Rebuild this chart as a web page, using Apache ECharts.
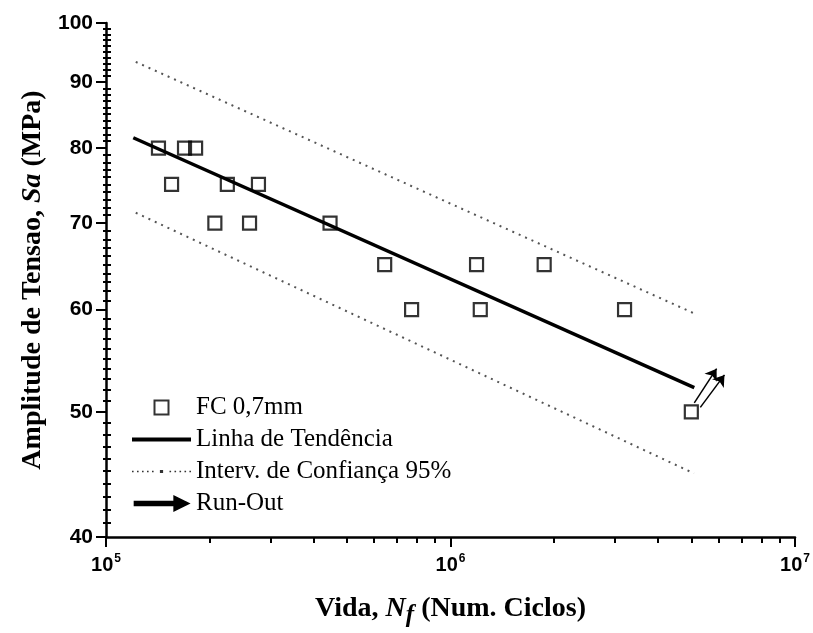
<!DOCTYPE html>
<html>
<head>
<meta charset="utf-8">
<script src="https://cdn.jsdelivr.net/npm/echarts@6/dist/echarts.min.js"></script>
<style>
html,body{margin:0;padding:0;background:#fff;}
#c{width:813px;height:633px;}
</style>
</head>
<body>
<div id="c"></div>
<script>
// ---- data ----
const fcN = [1.42e5, 1.69e5, 1.82e5, 1.55e5, 2.25e5, 2.77e5, 2.07e5, 2.61e5, 4.47e5, 6.44e5, 1.19e6, 1.87e6, 7.71e5, 1.22e6, 3.20e6, 5.0e6];
const fcS = [80, 80, 80, 75, 75, 75, 70, 70, 70, 65, 65, 65, 60, 60, 60, 50];
const trendN = [1.20e5, 5.1e6];
const trendS = [81.5, 52.2];
const upperN = [1.22e5, 5.09e6];
const upperS = [93.3, 59.6];
const lowerN = [1.22e5, 5.09e6];
const lowerS = [71.3, 44.8];
const runFromN = [5.10e6, 5.31e6];
const runFromS = [50.8, 50.4];
const runToN = [5.92e6, 6.24e6];
const runToS = [54.0, 53.4];
const xMajorTicks = [1e5, 1e6, 1e7];
const xMinorTicks = [2e5, 3e5, 4e5, 5e5, 6e5, 7e5, 8e5, 9e5, 2e6, 3e6, 4e6, 5e6, 6e6, 7e6, 8e6, 9e6];
const yMajorTicks = [40, 50, 60, 70, 80, 90, 100];
const yMinorTicks = [41, 42, 43, 44, 45, 46, 47, 48, 49, 51, 52, 53, 54, 55, 56, 57, 58, 59,
  61, 62, 63, 64, 65, 66, 67, 68, 69, 71, 72, 73, 74, 75, 76, 77, 78, 79,
  81, 82, 83, 84, 85, 86, 87, 88, 89, 91, 92, 93, 94, 95, 96, 97, 98, 99];

const zip = (a, b) => a.map((v, i) => [v, b[i]]);

// legend icons (style only)
const squareIcon = 'path://M0,0 L12,0 L12,12 L0,12 Z';
const thickLineIcon = 'path://M0,0 L60,0 L60,4 L0,4 Z';
let dotted = '';
[0, 5, 10, 15, 20, 37.5, 42.5, 47.5, 52.5, 57.4].forEach(x => { dotted += 'M' + x + ',0.7 h1.6 v1.6 h-1.6 Z '; });
dotted += 'M27.9,0 h3.2 v3 h-3.2 Z';
const dottedIcon = 'path://' + dotted;
const arrowIcon = 'path://M0,5.5 L34,5.5 L34,1 L46,7 L34,13 L34,8.5 L0,8.5 Z';

const chart = echarts.init(document.getElementById('c'), null, {renderer: 'canvas'});
const serifB = {fontFamily: 'Liberation Serif', fontWeight: 'bold', fontSize: 28, color: '#000'};
const baseX = {type: 'log', logBase: 10, min: 1e5, max: 1e7, gridIndex: 0, position: 'bottom', splitLine: {show: false}};
const baseY = {type: 'log', logBase: 10, min: 40, max: 100, gridIndex: 0, position: 'left', splitLine: {show: false}};

const option = {
  backgroundColor: '#fff',
  animation: false,
  grid: {left: 106, right: 15, top: 23, bottom: 93, containLabel: false},
  legend: {
    left: 127, top: 390, orient: 'vertical',
    itemWidth: 59, itemHeight: 14, itemGap: 7, symbolKeepAspect: true,
    textStyle: {fontFamily: 'Liberation Serif', fontSize: 25, color: '#000', lineHeight: 25},
    data: [
      {name: 'FC 0,7mm', icon: squareIcon},
      {name: 'Linha de Tendência', icon: thickLineIcon},
      {name: 'Interv. de Confiança 95%', icon: dottedIcon},
      {name: 'Run-Out', icon: arrowIcon}
    ]
  },
  xAxis: [
    Object.assign({}, baseX, {
      name: '{b|Vida, }{i|N}{sub|f}{b| (Num. Ciclos)}',
      nameLocation: 'middle', nameGap: 52,
      nameTextStyle: {rich: {
        b: serifB,
        i: Object.assign({}, serifB, {fontStyle: 'italic'}),
        sub: Object.assign({}, serifB, {fontStyle: 'italic', fontSize: 25, padding: [14, 0, 0, 0]})
      }},
      axisLine: {show: true, lineStyle: {color: '#000', width: 2.5}},
      axisTick: {show: true, inside: false, length: 10, lineStyle: {color: '#000', width: 2}, customValues: xMajorTicks},
      axisLabel: {
        show: true, margin: 16, customValues: xMajorTicks,
        formatter: function (v) { return '{b|10}{s|' + Math.round(Math.log10(v)) + '}'; },
        rich: {
          b: {fontFamily: 'Liberation Sans', fontWeight: 'bold', fontSize: 20, color: '#000'},
          s: {fontFamily: 'Liberation Sans', fontWeight: 'bold', fontSize: 12, color: '#000', padding: [0, 0, 12, 1]}
        }
      }
    }),
    Object.assign({}, baseX, {
      axisLine: {show: false},
      axisTick: {show: true, inside: false, length: 6, lineStyle: {color: '#000', width: 2}, customValues: xMinorTicks},
      axisLabel: {show: false}
    })
  ],
  yAxis: [
    Object.assign({}, baseY, {
      name: '{b|Amplitude de Tensao, }{i|Sa}{b| (MPa)}',
      nameLocation: 'middle', nameGap: 58, nameRotate: 90,
      nameTextStyle: {rich: {
        b: serifB,
        i: Object.assign({}, serifB, {fontStyle: 'italic'})
      }},
      axisLine: {show: true, lineStyle: {color: '#000', width: 2.5}},
      axisTick: {show: true, inside: false, length: 10, lineStyle: {color: '#000', width: 2}, customValues: yMajorTicks},
      axisLabel: {
        show: true, margin: 13, customValues: yMajorTicks,
        fontFamily: 'Liberation Sans', fontWeight: 'bold', fontSize: 21, color: '#000'
      }
    }),
    Object.assign({}, baseY, {
      axisLine: {show: false},
      axisTick: {show: true, inside: true, length: 5, lineStyle: {color: '#000', width: 2}, customValues: yMinorTicks},
      axisLabel: {show: false}
    }),
    Object.assign({}, baseY, {
      axisLine: {show: false},
      axisTick: {show: true, inside: false, length: 3, lineStyle: {color: '#000', width: 2}, customValues: yMinorTicks},
      axisLabel: {show: false}
    })
  ],
  series: [
    {
      name: 'Interv. de Confiança 95%', type: 'line', xAxisIndex: 0, yAxisIndex: 0,
      data: zip(upperN, upperS), symbol: 'none',
      itemStyle: {color: '#333'},
      lineStyle: {color: '#555', width: 2, type: [2, 5]}, z: 2
    },
    {
      name: 'Interv. de Confiança 95%', type: 'line', xAxisIndex: 0, yAxisIndex: 0,
      data: zip(lowerN, lowerS), symbol: 'none',
      itemStyle: {color: '#333'},
      lineStyle: {color: '#555', width: 2, type: [2, 5]}, z: 2
    },
    {
      name: 'Linha de Tendência', type: 'line', xAxisIndex: 0, yAxisIndex: 0,
      data: zip(trendN, trendS), symbol: 'none',
      itemStyle: {color: '#000'},
      lineStyle: {color: '#000', width: 3.5}, z: 3
    },
    {
      name: 'FC 0,7mm', type: 'scatter', xAxisIndex: 0, yAxisIndex: 0,
      data: zip(fcN, fcS), symbol: 'rect', symbolSize: 13,
      itemStyle: {color: 'rgba(255,255,255,0)', borderColor: '#000', borderWidth: 2.2}, z: 4
    },
    {
      name: 'Run-Out', type: 'lines', coordinateSystem: 'cartesian2d', xAxisIndex: 0, yAxisIndex: 0,
      symbol: ['none', 'arrow'], symbolSize: [0, 11],
      itemStyle: {color: '#000'},
      lineStyle: {color: '#000', width: 1.5, opacity: 1},
      data: runFromN.map((n, i) => ({coords: [[n, runFromS[i]], [runToN[i], runToS[i]]]})),
      z: 5
    }
  ]
};
chart.setOption(option);
</script>
</body>
</html>
